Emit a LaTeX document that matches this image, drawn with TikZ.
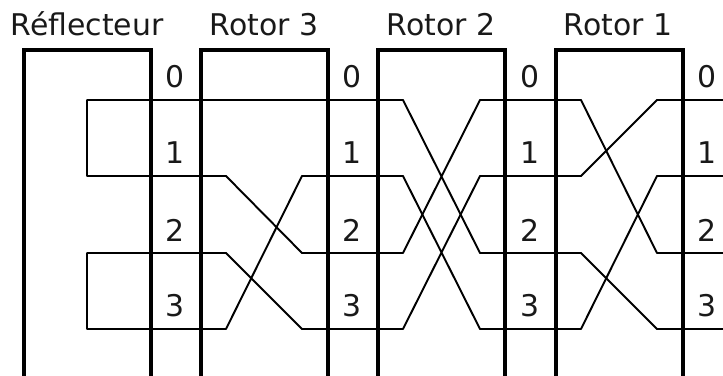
\documentclass[tikz,border=0pt]{standalone}
\usepackage{fontspec}
\setmainfont{DejaVu Sans}
\usepackage{tikz}
\tikzset{
  rotorbox/.style={line width=1.05pt,line join=miter},
  wire/.style={line width=0.55pt,line join=round},
  rotorname/.style={anchor=base,font=\fontsize{8.5}{10}\selectfont,text=black!90},
  contact/.style={font=\fontsize{8.5}{10}\selectfont,text=black!90}
}

\begin{document}
\begin{tikzpicture}[x=0.01cm,y=-0.01cm]
\useasboundingbox (0,0) rectangle (723,376);
% Wire heights
\foreach \n/\y in {0/100,1/176,2/253,3/329} {
  \coordinate (refl\n) at (87,\y);
  \coordinate (rthreeL\n) at (226,\y);
  \coordinate (rthreeR\n) at (302,\y);
  \coordinate (rtwoL\n) at (403,\y);
  \coordinate (rtwoR\n) at (480,\y);
  \coordinate (roneL\n) at (581,\y);
  \coordinate (roneR\n) at (657,\y);
  \coordinate (out\n) at (723,\y);
}
% Wires
\draw[wire] (out3) -- (roneR3) -- (roneL2) -- (rtwoR2) -- (rtwoL0) -- (rthreeR0) -- (rthreeL0)
  -- (refl0) -- (refl1) -- (rthreeL1) -- (rthreeR2) -- (rtwoL2) -- (rtwoR0) -- (roneL0) -- (roneR2) -- (out2);
\draw[wire] (out0) -- (roneR0) -- (roneL1) -- (rtwoR1) -- (rtwoL3) -- (rthreeR3) -- (rthreeL2)
  -- (refl2) -- (refl3) -- (rthreeL3) -- (rthreeR1) -- (rtwoL1) -- (rtwoR3) -- (roneL3) -- (roneR1) -- (out1);
% Boxes, open at the bottom
\draw[rotorbox] (24,376) -- (24,50) -- (151,50) -- (151,376);
\draw[rotorbox] (201,376) -- (201,50) -- (328,50) -- (328,376);
\draw[rotorbox] (378,376) -- (378,50) -- (505,50) -- (505,376);
\draw[rotorbox] (556,376) -- (556,50) -- (683,50) -- (683,376);
% Names
\node[rotorname] (reflname) at (87,36) {Réflecteur};
\node[rotorname] (rthreename) at (264,36) {Rotor 3};
\node[rotorname] (rtwoname) at (441,36) {Rotor 2};
\node[rotorname] (ronename) at (618,36) {Rotor 1};
% Contact numbers
\foreach \n/\y in {0/77,1/153,2/230,3/306} {
  \node[contact] (numa\n) at (175,\y) {\n};
  \node[contact] (numb\n) at (352,\y) {\n};
  \node[contact] (numc\n) at (530,\y) {\n};
  \node[contact] (numd\n) at (707,\y) {\n};
}
\end{tikzpicture}
\end{document}
